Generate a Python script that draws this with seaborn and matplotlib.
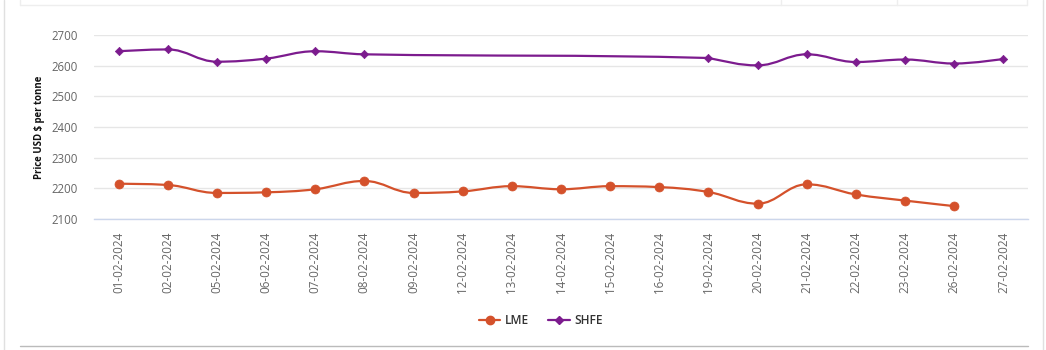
import numpy as np
import pandas as pd
import matplotlib
matplotlib.use("Agg")
import matplotlib.pyplot as plt
from matplotlib.path import Path
from matplotlib.patches import PathPatch
from matplotlib.lines import Line2D
import seaborn as sns

dates = ["01-02-2024", "02-02-2024", "05-02-2024", "06-02-2024", "07-02-2024",
         "08-02-2024", "09-02-2024", "12-02-2024", "13-02-2024", "14-02-2024",
         "15-02-2024", "16-02-2024", "19-02-2024", "20-02-2024", "21-02-2024",
         "22-02-2024", "23-02-2024", "26-02-2024", "27-02-2024"]
lme = [2215, 2211, 2185, 2187, 2197, 2224, 2185, 2190, 2207, 2197,
       2207, 2204, 2188, 2150, 2213, 2180, 2160, 2142, np.nan]
shfe = [2647, 2653, 2613, 2623, 2647, 2637, np.nan, np.nan, np.nan, np.nan,
        np.nan, np.nan, 2625, 2601, 2637, 2612, 2620, 2607, 2622]
yticks = [2100, 2200, 2300, 2400, 2500, 2600, 2700]

LME_C = "#d4512b"
SHFE_C = "#7c1b8e"

sns.set_theme(style="white")
plt.rcParams["font.family"] = ["Open Sans", "DejaVu Sans"]

W, H = 1046, 350
fig = plt.figure(figsize=(W / 100, H / 100), dpi=100)
left_px, right_px, top_px, bot_px = 94, 1028, 35, 219
ax = fig.add_axes([left_px / W, 1 - bot_px / H, (right_px - left_px) / W, (bot_px - top_px) / H])

df = pd.DataFrame({"pos": np.arange(len(dates)), "date": dates, "LME": lme, "SHFE": shfe})


def spline_path(xs, ys):
    n = len(xs)
    cl = [None] * n
    cr = [None] * n
    for i in range(n):
        px, py = xs[i], ys[i]
        if 0 < i < n - 1:
            lx, ly = xs[i - 1], ys[i - 1]
            nx, ny = xs[i + 1], ys[i + 1]
            lcx = (1.5 * px + lx) / 2.5
            lcy = (1.5 * py + ly) / 2.5
            rcx = (1.5 * px + nx) / 2.5
            rcy = (1.5 * py + ny) / 2.5
            if rcx != lcx:
                corr = ((rcy - lcy) * (rcx - px)) / (rcx - lcx) + py - rcy
                lcy += corr
                rcy += corr
            if lcy > ly and lcy > py:
                lcy = max(ly, py); rcy = 2 * py - lcy
            elif lcy < ly and lcy < py:
                lcy = min(ly, py); rcy = 2 * py - lcy
            if rcy > ny and rcy > py:
                rcy = max(ny, py); lcy = 2 * py - rcy
            elif rcy < ny and rcy < py:
                rcy = min(ny, py); lcy = 2 * py - rcy
            cl[i] = (lcx, lcy)
            cr[i] = (rcx, rcy)
        else:
            cl[i] = (px, py)
            cr[i] = (px, py)
    verts = [(xs[0], ys[0])]
    codes = [Path.MOVETO]
    for i in range(1, n):
        verts += [cr[i - 1], cl[i], (xs[i], ys[i])]
        codes += [Path.CURVE4] * 3
    return Path(verts, codes)


for name, color, marker, ms in [("LME", LME_C, "o", 42), ("SHFE", SHFE_C, "D", 18)]:
    sub = df.dropna(subset=[name])
    xs = sub["pos"].to_numpy(float)
    ys = sub[name].to_numpy(float)
    ax.add_patch(PathPatch(spline_path(xs, ys), facecolor="none", edgecolor=color, lw=1.6, zorder=2))
    sns.scatterplot(data=sub, x="pos", y=name, color=color, marker=marker, s=ms,
                    edgecolor=color, linewidth=0.5, ax=ax, zorder=3, legend=False)

ax.set_xlim(-0.5, -0.5 + (right_px - left_px) / 49.55)
ax.set_ylim(2100, 2700)
ax.set_yticks(yticks)
ax.set_yticklabels([str(v) for v in yticks], color="#666666", fontsize=8.3)
ax.set_xticks(np.arange(len(dates)))
ax.set_xticklabels(dates, rotation=90, color="#666666", fontsize=8.4)
ax.set_xticks(np.arange(len(dates) + 1) - 0.5, minor=True)
ax.tick_params(axis="x", which="major", length=0, pad=9)
ax.tick_params(axis="x", which="minor", length=7, color="#ccd6eb", width=1, direction="out")
ax.tick_params(axis="y", length=0, pad=12)
ax.grid(axis="y", color="#e6e6e6", lw=1)
ax.set_axisbelow(True)
for s in ["top", "right", "left"]:
    ax.spines[s].set_visible(False)
ax.spines["bottom"].set_color("#ccd6eb")
ax.spines["bottom"].set_linewidth(1)
ax.set_xlabel("")
ax.set_ylabel("Price USD $ per tonne", fontsize=6.9, fontweight="bold", color="#111111", labelpad=4)

handles = [Line2D([0], [0], color=LME_C, lw=1.6, marker="o", ms=6),
           Line2D([0], [0], color=SHFE_C, lw=1.6, marker="D", ms=4)]
fig.legend(handles, ["LME", "SHFE"], loc="center", bbox_to_anchor=(541 / W, 1 - 321 / H),
           ncol=2, frameon=False, prop={"size": 8.6, "weight": "semibold"},
           handlelength=1.8, columnspacing=1.6, handletextpad=0.4, labelcolor="#333333")

# page decorations
def fline(x0, y0, x1, y1, color, lw=1):
    fig.add_artist(Line2D([x0 / W, x1 / W], [1 - y0 / H, 1 - y1 / H], color=color, lw=lw,
                          transform=fig.transFigure))

fline(4, 0, 4, 350, "#e0e0e0")
fline(1043, 0, 1043, 350, "#e0e0e0")
fline(20, 5, 1027, 5, "#eeeeee")
fline(20, 0, 20, 5, "#eeeeee")
fline(1027, 0, 1027, 5, "#eeeeee")
fline(781, 0, 781, 5, "#eeeeee")
fline(897, 0, 897, 5, "#eeeeee")
fline(20, 346, 1028, 346, "#bbbbbb")

fig.savefig("out.png", dpi=100)
